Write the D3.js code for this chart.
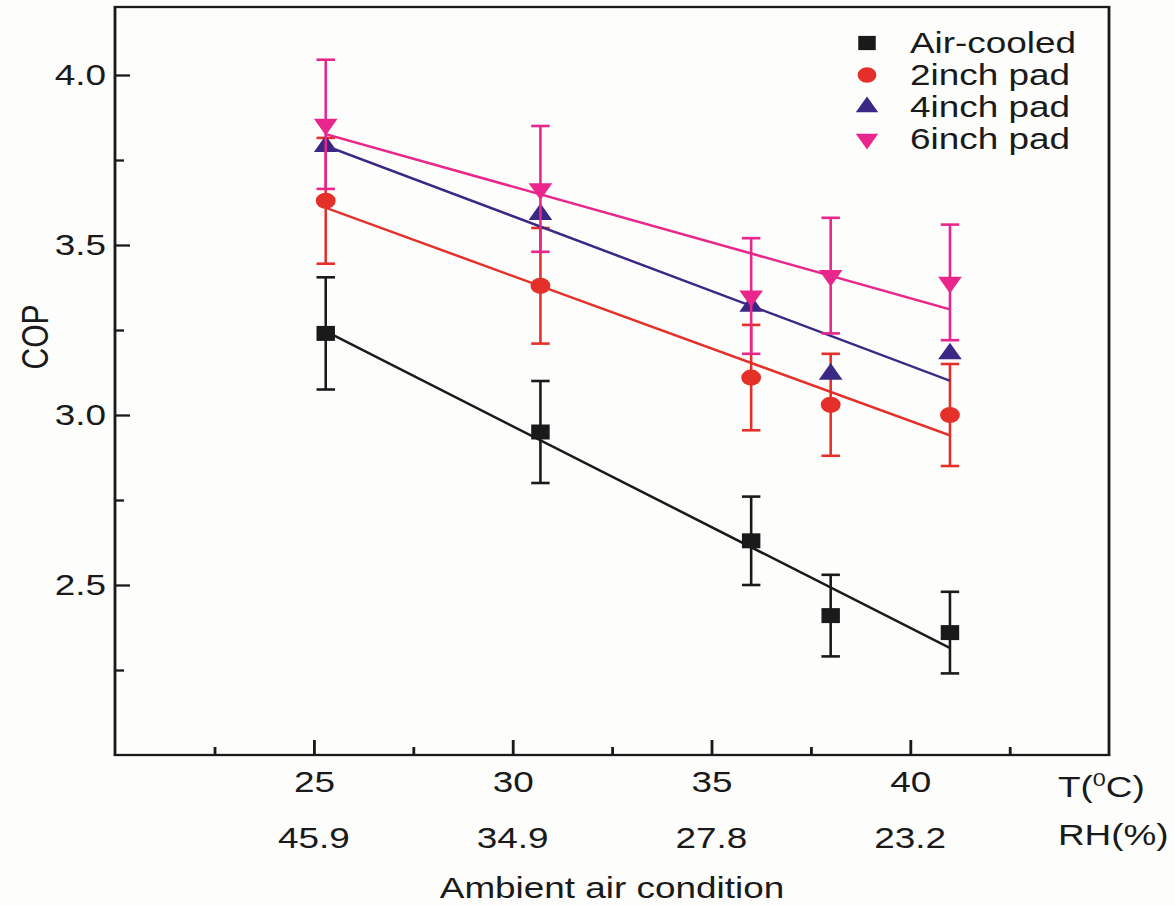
<!DOCTYPE html>
<html lang="en">
<head>
  <meta charset="UTF-8">
  <title>COP vs ambient air condition</title>
  <script src="https://d3js.org/d3.v7.min.js"></script>
  <style>
    body {
      margin: 0;
      background: #fdfdfc;
    }
    svg text {
      font-family: "Liberation Sans", Arial, sans-serif;
      fill: #1a1a1a;
    }
  </style>
</head>
<body>
<svg width="1174" height="906"></svg>

<script>
  const tempC = [25.3, 30.7, 36.0, 38.0, 41.0];

  const airCooled = [3.24, 2.95, 2.63, 2.41, 2.36];
  const airCooledErr = [0.165, 0.15, 0.13, 0.12, 0.12];

  const pad2 = [3.63, 3.38, 3.11, 3.03, 3.00];
  const pad2Err = [0.185, 0.17, 0.155, 0.15, 0.15];

  const pad4 = [3.79, 3.59, 3.32, 3.12, 3.18];

  const pad6 = [3.855, 3.665, 3.35, 3.41, 3.39];
  const pad6Err = [0.19, 0.185, 0.17, 0.17, 0.17];

  const tTicks = [25, 30, 35, 40];
  const tMinorTicks = [22.5, 27.5, 32.5, 37.5, 42.5];
  const rhLabels = ["45.9", "34.9", "27.8", "23.2"];
  const copTicks = [2.5, 3.0, 3.5, 4.0];
  const copMinorTicks = [2.25, 2.75, 3.25, 3.75];

  const seriesNames = ["Air-cooled", "2inch pad", "4inch pad", "6inch pad"];

  // the original figure is stretched horizontally, so draw everything in a scaled group
  const sx = 1.23;
  const svg = d3.select("svg");
  svg.append("rect").attr("width", 1174).attr("height", 906).attr("fill", "#fdfdfc");
  const g = svg.append("g").attr("transform", `scale(${sx},1)`);

  const plotLeft = 115 / sx, plotRight = 1109 / sx, plotTop = 7, plotBottom = 755;

  const x = d3.scaleLinear().domain([20, 45]).range([plotLeft, plotRight]);
  const y = d3.scaleLinear().domain([2.0, 4.2]).range([plotBottom, plotTop]);

  const series = [
    {name: seriesNames[0], values: airCooled, err: airCooledErr, color: "#1a1a1a", symbol: d3.symbolSquare, size: 225, rot: 0},
    {name: seriesNames[1], values: pad2, err: pad2Err, color: "#e5302a", symbol: d3.symbolCircle, size: 205, rot: 0},
    {name: seriesNames[2], values: pad4, err: null, color: "#3b2784", symbol: d3.symbolTriangle, size: 160, rot: 0},
    {name: seriesNames[3], values: pad6, err: pad6Err, color: "#e8268b", symbol: d3.symbolTriangle, size: 160, rot: 180}
  ];

  // axes (ticks pointing inward)
  const styleAxis = sel => {
    sel.select(".domain").remove();
    sel.selectAll("line").attr("stroke", "#1a1a1a").attr("stroke-width", 2.3);
    sel.selectAll("text").attr("font-size", 30).attr("font-family", null).attr("fill", "#1a1a1a");
  };

  g.append("g")
    .attr("transform", `translate(0,${plotBottom})`)
    .call(d3.axisBottom(x).tickValues(tTicks).tickSizeInner(-15).tickSizeOuter(0)
      .tickPadding(16).tickFormat(d3.format("d")))
    .call(styleAxis);

  g.append("g")
    .attr("transform", `translate(0,${plotBottom})`)
    .call(d3.axisBottom(x).tickValues(tMinorTicks).tickSizeInner(-8).tickSizeOuter(0).tickFormat(""))
    .call(styleAxis);

  g.append("g")
    .attr("transform", `translate(${plotLeft},0)`)
    .call(d3.axisLeft(y).tickValues(copTicks).tickSizeInner(-15 / sx).tickSizeOuter(0)
      .tickPadding(9 / sx).tickFormat(d3.format(".1f")))
    .call(styleAxis);

  g.append("g")
    .attr("transform", `translate(${plotLeft},0)`)
    .call(d3.axisLeft(y).tickValues(copMinorTicks).tickSizeInner(-9 / sx).tickSizeOuter(0).tickFormat(""))
    .call(styleAxis);

  // frame
  g.append("rect")
    .attr("x", plotLeft).attr("y", plotTop)
    .attr("width", plotRight - plotLeft).attr("height", plotBottom - plotTop)
    .attr("fill", "none").attr("stroke", "#1a1a1a").attr("stroke-width", 2.3);

  // RH row
  g.selectAll(".rh")
    .data(rhLabels)
    .enter()
    .append("text")
    .attr("class", "rh")
    .attr("x", (d, i) => x(tTicks[i]))
    .attr("y", 848)
    .attr("text-anchor", "middle")
    .attr("font-size", 30)
    .text(d => d);

  const tLabel = g.append("text").attr("x", 1058 / sx).attr("y", 797).attr("font-size", 30);
  tLabel.append("tspan").text("T(");
  tLabel.append("tspan").attr("font-size", 19).attr("dy", -11).text("0");
  tLabel.append("tspan").attr("dy", 11).text("C)");

  g.append("text").attr("x", 1058 / sx).attr("y", 845).attr("font-size", 30).text("RH(%)");

  g.append("text")
    .attr("x", (plotLeft + plotRight) / 2)
    .attr("y", 898)
    .attr("text-anchor", "middle")
    .attr("font-size", 30)
    .text("Ambient air condition");

  g.append("text")
    .attr("transform", `translate(${48 / sx},337) rotate(-90)`)
    .attr("text-anchor", "middle")
    .attr("font-size", 30)
    .text("COP");

  // linear fit through each series
  function fit(xs, ys) {
    const mx = d3.mean(xs), my = d3.mean(ys);
    const sxy = d3.sum(xs, (v, i) => (v - mx) * (ys[i] - my));
    const sxx = d3.sum(xs, v => (v - mx) * (v - mx));
    const b = sxy / sxx;
    return v => my + b * (v - mx);
  }

  const line = d3.line().x(d => x(d[0])).y(d => y(d[1]));

  series.forEach(s => {
    const f = fit(tempC, s.values);
    const x0 = tempC[0], x1 = tempC[tempC.length - 1];
    const sg = g.append("g");

    sg.append("path")
      .attr("d", line([[x0, f(x0)], [x1, f(x1)]]))
      .attr("fill", "none")
      .attr("stroke", s.color)
      .attr("stroke-width", 2.4);

    if (s.err) {
      const capW = 7.5;
      const eb = sg.selectAll(".err")
        .data(s.values.map((v, i) => ({t: tempC[i], v: v, e: s.err[i]})))
        .enter()
        .append("g")
        .attr("stroke", s.color)
        .attr("stroke-width", 2.1);
      eb.append("line")
        .attr("x1", d => x(d.t)).attr("x2", d => x(d.t))
        .attr("y1", d => y(d.v - d.e)).attr("y2", d => y(d.v + d.e));
      eb.append("line")
        .attr("x1", d => x(d.t) - capW).attr("x2", d => x(d.t) + capW)
        .attr("y1", d => y(d.v + d.e)).attr("y2", d => y(d.v + d.e))
        .attr("stroke-width", 2.6);
      eb.append("line")
        .attr("x1", d => x(d.t) - capW).attr("x2", d => x(d.t) + capW)
        .attr("y1", d => y(d.v - d.e)).attr("y2", d => y(d.v - d.e))
        .attr("stroke-width", 2.6);
    }

    sg.selectAll(".pt")
      .data(s.values)
      .enter()
      .append("path")
      .attr("d", d3.symbol().type(s.symbol).size(s.size))
      .attr("transform", (d, i) => `translate(${x(tempC[i])},${y(d)}) rotate(${s.rot})`)
      .attr("fill", s.color);
  });

  // legend
  const legend = g.selectAll(".legend")
    .data(series)
    .enter()
    .append("g")
    .attr("transform", (d, i) => `translate(${867 / sx},${43 + i * 32})`);

  legend.append("path")
    .attr("d", d => d3.symbol().type(d.symbol).size(d.size * 0.9)())
    .attr("transform", d => `rotate(${d.rot})`)
    .attr("fill", d => d.color);

  legend.append("text")
    .attr("x", (910 - 867) / sx)
    .attr("dy", "0.33em")
    .attr("font-size", 30)
    .text(d => d.name);
</script>

</body>
</html>
